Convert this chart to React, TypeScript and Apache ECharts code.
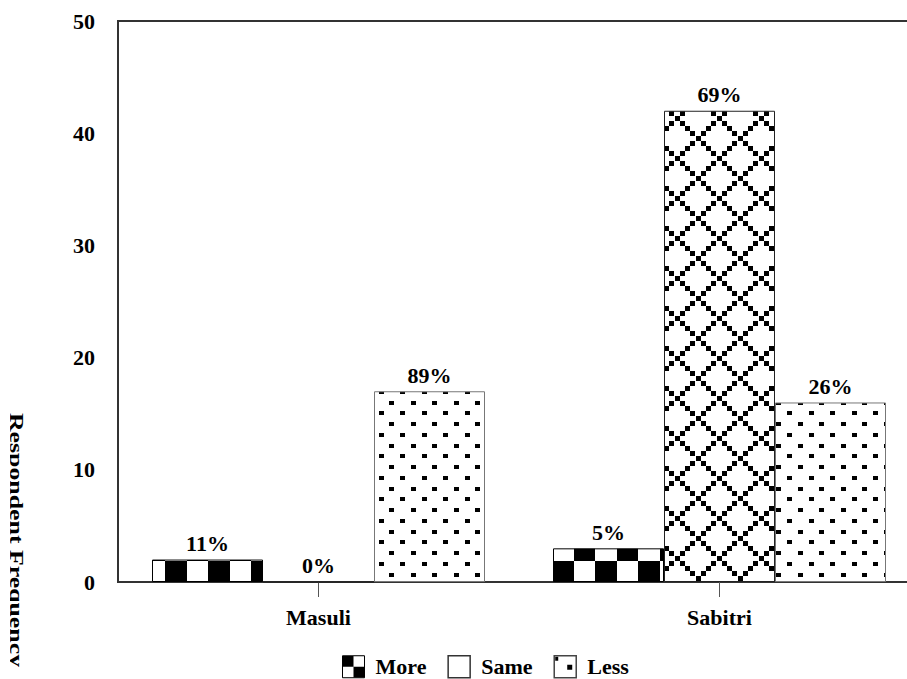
import React, { useEffect, useRef } from "react";
import * as echarts from "echarts";

const categories = ["Masuli", "Sabitri"];
const seriesNames = ["More", "Same", "Less"];
const moreValues = [2, 3];
const sameValues = [0, 42];
const lessValues = [17, 16];
const moreLabels = ["11%", "5%"];
const sameLabels = ["0%", "69%"];
const lessLabels = ["89%", "26%"];
const yMin = 0;
const yMax = 50;
const yInterval = 10;
const yAxisTitle = "Respondent Frequency";

const FONT = '"Liberation Serif", "Times New Roman", serif';

type R = [number, number, number, number];

// Build a repeating tile; rects are wrapped around the tile edges after shifting by (ox, oy)
function makeTile(w: number, h: number, ox: number, oy: number, rects: R[]) {
  const c = document.createElement("canvas");
  c.width = w;
  c.height = h;
  const ctx = c.getContext("2d")!;
  ctx.fillStyle = "#ffffff";
  ctx.fillRect(0, 0, w, h);
  ctx.fillStyle = "#000000";
  const sx = ((Math.round(ox) % w) + w) % w;
  const sy = ((Math.round(oy) % h) + h) % h;
  for (const [x, y, rw, rh] of rects) {
    for (const dx of [-w, 0, w]) {
      for (const dy of [-h, 0, h]) {
        ctx.fillRect(Math.round(x + sx + dx), Math.round(y + sy + dy), rw, rh);
      }
    }
  }
  return c;
}

function checkerRects(size: number): R[] {
  const half = Math.round(size / 2);
  return [
    [0, 0, half, half],
    [half, half, size - half, size - half],
  ];
}

function diamondRects(W: number, H: number): R[] {
  const s = 5;
  const out: R[] = [];
  for (let i = 0; i < 8; i++) {
    const px = (i * W) / 8;
    const py = (i * H) / 8;
    out.push([px - s / 2, py - s / 2, s, s]);
    out.push([W - px - s / 2, py - s / 2, s, s]);
  }
  return out;
}

function dotRects(): R[] {
  const rows: [number, number[]][] = [
    [0, [0, 22]],
    [11, [11, 33]],
    [22, [0, 22]],
    [32, [11, 33]],
  ];
  const out: R[] = [];
  for (const [y, xs] of rows) for (const x of xs) out.push([x, y, 5, 4]);
  return out;
}

export default function App() {
  const ref = useRef<HTMLDivElement>(null);

  useEffect(() => {
    if (!ref.current) return;
    const chart = echarts.init(ref.current, undefined, { renderer: "svg" });

    const checker = makeTile(43, 43, 36, 2, checkerRects(43));
    const diamond = makeTile(42, 40, 5, 38, diamondRects(42, 40));
    const dots = makeTile(43, 43, 2, 35, dotRects());
    const legendChecker = makeTile(22, 22, 0, 0, checkerRects(22));
    const legendBlank = makeTile(22, 22, 0, 0, []);
    const legendDots = makeTile(22, 22, 0, 0, [
      [13, 9, 5, 5],
      [1, 1, 3, 4],
    ]);

    const fills = [
      { image: checker, repeat: "repeat" },
      { image: diamond, repeat: "repeat" },
      { image: dots, repeat: "repeat" },
    ];
    const borders = ["#000", "#222", "#777"];
    const valuesList = [moreValues, sameValues, lessValues];
    const labelsList = [moreLabels, sameLabels, lessLabels];

    const option: any = {
      animation: false,
      backgroundColor: "#ffffff",
      grid: {
        left: 118,
        top: 21,
        width: 802,
        height: 561,
        outerBoundsMode: "none",
        containLabel: false,
        show: true,
        borderColor: "#333",
        borderWidth: 2,
        backgroundColor: "transparent",
      },
      legend: {
        left: 342,
        top: 655,
        padding: 0,
        itemWidth: 22,
        itemHeight: 22,
        itemGap: 21,
        icon: "rect",
        textStyle: {
          fontFamily: FONT,
          fontWeight: "bold",
          fontSize: 22,
          color: "#000",
          padding: [0, 0, 0, 6],
        },
        data: [
          {
            name: seriesNames[0],
            itemStyle: {
              color: { image: legendChecker, repeat: "repeat" },
              borderColor: "#000",
              borderWidth: 1,
            },
          },
          {
            name: seriesNames[1],
            itemStyle: {
              color: { image: legendBlank, repeat: "repeat" },
              borderColor: "#333",
              borderWidth: 1.5,
            },
          },
          {
            name: seriesNames[2],
            itemStyle: {
              color: { image: legendDots, repeat: "repeat" },
              borderColor: "#444",
              borderWidth: 1.5,
            },
          },
        ],
      },
      xAxis: {
        type: "category",
        data: categories,
        axisLine: { show: true, lineStyle: { color: "#333", width: 2 } },
        axisTick: { show: true, alignWithLabel: true, length: 15, lineStyle: { color: "#555", width: 1 } },
        axisLabel: {
          margin: 24,
          fontFamily: FONT,
          fontWeight: "bold",
          fontSize: 22,
          color: "#000",
        },
        splitLine: { show: false },
      },
      yAxis: {
        type: "value",
        min: yMin,
        max: yMax,
        interval: yInterval,
        axisLine: { show: true, lineStyle: { color: "#333", width: 2 } },
        axisTick: { show: false },
        splitLine: { show: false },
        axisLabel: {
          margin: 23,
          fontFamily: FONT,
          fontWeight: "bold",
          fontSize: 22,
          color: "#000",
        },
      },
      graphic: [
        {
          type: "text",
          x: 16,
          y: 540,
          rotation: -Math.PI / 2,
          scaleX: 1.36,
          scaleY: 1,
          z: 10,
          style: {
            text: yAxisTitle,
            font: `bold 19px ${FONT}`,
            fill: "#000",
            textAlign: "center",
            textVerticalAlign: "middle",
          },
        },
        {
          type: "rect",
          z: 11,
          shape: { x: 0, y: 400, width: 10, height: 279 },
          style: { fill: "#ffffff" },
        },
      ],
      series: seriesNames.map((name, i) => ({
        name,
        type: "bar",
        data: valuesList[i],
        barWidth: 111,
        barGap: "0%",
        itemStyle: {
          color: fills[i],
          borderColor: borders[i],
          borderWidth: 1,
        },
        label: {
          show: true,
          position: "top",
          distance: 5,
          fontFamily: FONT,
          fontWeight: "bold",
          fontSize: 22,
          color: "#000",
          formatter: (p: any) => labelsList[i][p.dataIndex],
        },
      })),
    };

    chart.setOption(option);
    return () => {
      chart.dispose();
    };
  }, []);

  return (
    <div
      ref={ref}
      style={{ position: "fixed", left: 0, top: 0, width: 907, height: 679, background: "#fff" }}
    />
  );
}
